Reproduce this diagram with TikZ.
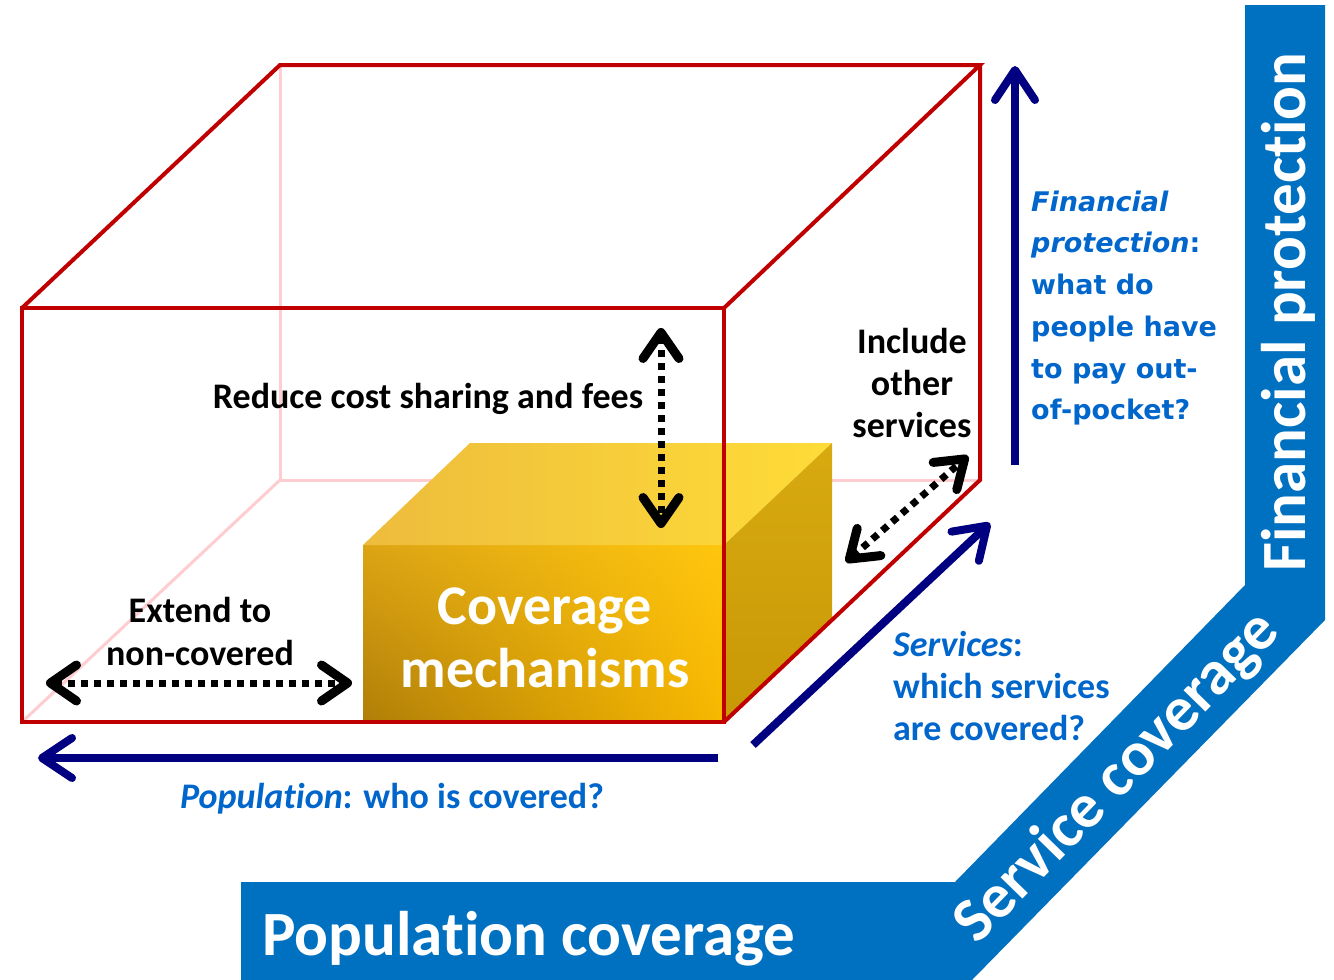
\documentclass[tikz,border=0pt]{standalone}
\usepackage{fontspec}
\setmainfont{Carlito}[Ligatures=NoCommon]
\newfontfamily\verd{DejaVu Sans}
\usetikzlibrary{arrows.meta,shadings}
\definecolor{boxred}{HTML}{C00000}
\definecolor{boxpink}{HTML}{FFCCD0}
\definecolor{navyc}{HTML}{000080}
\definecolor{txtblue}{HTML}{0066CC}
\definecolor{bandblue}{HTML}{0070C0}
\definecolor{yful}{HTML}{DCA414}
\definecolor{yfur}{HTML}{FFC60E}
\definecolor{yfll}{HTML}{B07E08}
\definecolor{yflr}{HTML}{F8B800}
\definecolor{ytl}{HTML}{EDBC3C}
\definecolor{ytr}{HTML}{FFDC38}
\definecolor{ysd}{HTML}{D8AA10}
\definecolor{ysl}{HTML}{C89806}
\begin{document}
\begin{tikzpicture}[x=1pt,y=-1pt,
  redline/.style={draw=boxred, line width=4pt, line join=miter},
  pinkline/.style={draw=boxpink, line width=3pt},
  bluearrow/.style={draw=navyc, line width=8pt, arrows={-Straight Barb[length=30pt,width=40pt,round]}},
  dotarrow/.style={draw=black, line width=7pt, dash pattern=on 7pt off 6pt,
     arrows={Straight Barb[length=26pt,width=36pt,round,line width=9pt]-Straight Barb[length=26pt,width=36pt,round,line width=9pt]}},
  blacklbl/.style={font=\fontsize{36}{42}\selectfont\bfseries, text=black, inner sep=0pt, anchor=base},
  bluelbl/.style={font=\fontsize{36}{42}\selectfont\bfseries, text=txtblue, inner sep=0pt, anchor=base west},
  verdlbl/.style={font=\verd\fontsize{27}{33}\selectfont\bfseries, text=txtblue, inner sep=0pt, anchor=base west},
  bandlbl/.style={font=\fontsize{63}{70}\selectfont\bfseries, text=white, inner sep=0pt},
  covlbl/.style={font=\fontsize{56}{64}\selectfont\bfseries, text=white, inner sep=0pt, anchor=base}]
\useasboundingbox (0,0) rectangle (1334,980);

% corners of the outer box
\coordinate (FTL) at (22,308);
\coordinate (FTR) at (724,308);
\coordinate (FBR) at (724,722);
\coordinate (FBL) at (22,722);
\coordinate (BTL) at (280,65);
\coordinate (BTR) at (980,65);
\coordinate (BBR) at (980,480);
\coordinate (BBL) at (280,480);

% hidden back edges
\draw[pinkline] (BTL) -- (BBL) -- (BBR);
\draw[pinkline] (FBL) -- (BBL);

% yellow block
\coordinate (YFTL) at (363,545);
\coordinate (YFTR) at (724,545);
\coordinate (YFBR) at (724,722);
\coordinate (YFBL) at (363,722);
\coordinate (YBTL) at (470,443);
\coordinate (YBTR) at (832,443);
\coordinate (YBBR) at (832,620);
\shade[upper left=yful, upper right=yfur, lower left=yfll, lower right=yflr] (YFTL) -- (YFTR) -- (YFBR) -- (YFBL) -- cycle;
\shade[left color=ytl, right color=ytr] (YFTL) -- (YBTL) -- (YBTR) -- (YFTR) -- cycle;
\shade[top color=ysd, bottom color=ysl] (YFTR) -- (YBTR) -- (YBBR) -- (YFBR) -- cycle;

% red visible edges
\draw[redline] (FTL) -- (FTR) -- (FBR) -- (FBL) -- cycle;
\draw[redline] (FTL) -- (BTL) -- (BTR) -- (FTR);
\draw[redline] (BTR) -- (BBR) -- (FBR);

% block label
\node[covlbl] (cov1) at (545,624) {Coverage};
\node[covlbl] (cov2) at (545,687) {mechanisms};

% dotted double arrows
\coordinate (vA) at (661,328);
\coordinate (vB) at (661,528);
\draw[dotarrow] (vA) -- (vB);
\coordinate (hA) at (46,683);
\coordinate (hB) at (352,683);
\draw[dotarrow] (hA) -- (hB);
\coordinate (dA) at (846,562);
\coordinate (dB) at (968,456);
\draw[dotarrow] (dA) -- (dB);

% black labels
\node[blacklbl] (reduce) at (428,408) {Reduce cost sharing and fees};
\node[blacklbl] (inc1) at (912,353) {Include};
\node[blacklbl] (inc2) at (912,395) {other};
\node[blacklbl] (inc3) at (912,437) {services};
\node[blacklbl] (ext1) at (200,622) {Extend to};
\node[blacklbl] (ext2) at (200,665) {non-covered};

% blue axis arrows
\coordinate (popS) at (718,758);
\coordinate (popE) at (38,758);
\draw[bluearrow] (popS) -- (popE);
\coordinate (serS) at (753,745);
\coordinate (serE) at (990,523);
\draw[bluearrow] (serS) -- (serE);
\coordinate (finS) at (1015,465);
\coordinate (finE) at (1015,66);
\draw[bluearrow] (finS) -- (finE);

% blue axis labels
\node[bluelbl, anchor=base] (poplbl) at (392,808) {\textit{Population}: who is covered?};
\node[bluelbl] (ser1) at (893,656) {\textit{Services}:};
\node[bluelbl] (ser2) at (893,698) {which services};
\node[bluelbl] (ser3) at (893,740) {are covered?};

\node[verdlbl] (fin1) at (1031,211) {\itshape Financial};
\node[verdlbl] (fin2) at (1031,252) {\textit{protection}:};
\node[verdlbl] (fin3) at (1031,294) {what do};
\node[verdlbl] (fin4) at (1031,336) {people have};
\node[verdlbl] (fin5) at (1031,378) {to pay out-};
\node[verdlbl] (fin6) at (1031,419) {of-pocket?};

% blue band
\fill[bandblue] (241,882) -- (955,882) -- (1245,585) -- (1245,5) -- (1325,5)
  -- (1325,620) -- (972,980) -- (241,980) -- cycle;
\node[bandlbl, anchor=base west] (popcov) at (262,955) {Population coverage};
\node[bandlbl, anchor=base west, rotate=90] (fincov) at (1305,572) {Financial protection};
\node[bandlbl, anchor=center, rotate=45.7] (sercov) at (1118,778) {Service coverage};
\end{tikzpicture}
\end{document}
